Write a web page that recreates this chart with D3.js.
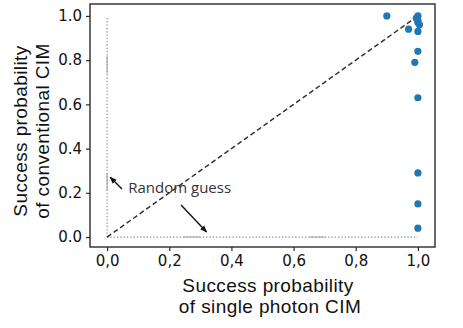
<!DOCTYPE html>
<html><head><meta charset="utf-8">
<script src="https://cdn.jsdelivr.net/npm/d3@7"></script>
<style>
html,body{margin:0;padding:0;background:#fff;}
svg{display:block;}
</style></head>
<body>
<svg id="chart" width="463" height="328"></svg>
<script>
// Data
const singlePhoton = [0.90, 1.00, 0.995, 1.00, 1.00, 1.005, 0.97, 1.00, 1.00, 0.99, 1.00, 1.00, 1.00, 1.00];
const conventional = [1.00, 1.00, 0.99, 0.98, 0.97, 0.96, 0.94, 0.93, 0.84, 0.79, 0.63, 0.29, 0.15, 0.04];
const xTicks = [0, 0.2, 0.4, 0.6, 0.8, 1.0];
const yTicks = [0, 0.2, 0.4, 0.6, 0.8, 1.0];
const xTickLabels = ["0,0", "0,2", "0,4", "0,6", "0,8", "1,0"];
const yTickLabels = ["0.0", "0.2", "0.4", "0.6", "0.8", "1.0"];
const annotationText = "Random guess";

const svg = d3.select("#chart");
const L = 90, R = 435, T = 4, B = 247;
const x = d3.scaleLinear().domain([-0.055, 1.055]).range([L, R]);
const y = d3.scaleLinear().domain([-0.045, 1.054]).range([B, T]);

const defs = svg.append("defs");
defs.append("marker").attr("id", "ah").attr("viewBox", "0 0 10 10")
  .attr("refX", 9).attr("refY", 5).attr("markerWidth", 7).attr("markerHeight", 7)
  .attr("markerUnits", "userSpaceOnUse").attr("orient", "auto")
  .append("path").attr("d", "M0,1 L10,5 L0,9 Z").attr("fill", "#111");

// Random guess dotted lines
svg.append("line").attr("x1", x(0)).attr("x2", x(0)).attr("y1", y(0)).attr("y2", y(1))
  .attr("stroke", "#8a8a8a").attr("stroke-width", 1.2).attr("stroke-dasharray", "1.3,2");
svg.append("line").attr("x1", x(0)).attr("x2", x(1)).attr("y1", y(0)).attr("y2", y(0))
  .attr("stroke", "#8a8a8a").attr("stroke-width", 1.2).attr("stroke-dasharray", "1.3,2");
// faint solid fragments
const fragV = [[0.74, 0.82], [0.21, 0.29]];
fragV.forEach(f => svg.append("line").attr("x1", x(0)).attr("x2", x(0)).attr("y1", y(f[0])).attr("y2", y(f[1]))
  .attr("stroke", "#aaa").attr("stroke-width", 1.2));
const fragH = [[0.245, 0.30], [0.65, 0.70]];
fragH.forEach(f => svg.append("line").attr("x1", x(f[0])).attr("x2", x(f[1])).attr("y1", y(0)).attr("y2", y(0))
  .attr("stroke", "#aaa").attr("stroke-width", 1.2));

// Diagonal
svg.append("line").attr("x1", x(0)).attr("y1", y(0)).attr("x2", x(1)).attr("y2", y(1))
  .attr("stroke", "#333").attr("stroke-width", 1.5).attr("stroke-dasharray", "5,3");

// Points
svg.append("g").selectAll("circle").data(singlePhoton).join("circle")
  .attr("cx", d => x(d)).attr("cy", (d, i) => y(conventional[i]))
  .attr("r", 3.6).attr("fill", "#1f77b4");

// Frame
svg.append("rect").attr("x", L).attr("y", T).attr("width", R - L).attr("height", B - T)
  .attr("fill", "none").attr("stroke", "#2a2a2a").attr("stroke-width", 1.4);

// Axes
const xAxis = svg.append("g").attr("transform", `translate(0,${B})`)
  .call(d3.axisBottom(x).tickValues(xTicks).tickSize(4).tickPadding(4).tickFormat((d, i) => xTickLabels[i]));
const yAxis = svg.append("g").attr("transform", `translate(${L},0)`)
  .call(d3.axisLeft(y).tickValues(yTicks).tickSize(4).tickPadding(4).tickFormat((d, i) => yTickLabels[i]));
[xAxis, yAxis].forEach(a => {
  a.select(".domain").remove();
  a.selectAll(".tick line").attr("stroke", "#2a2a2a").attr("stroke-width", 1.2);
  a.selectAll(".tick text").attr("fill", "#111").attr("font-family", "DejaVu Sans")
    .attr("font-size", 15);
});

// Axis labels
const lblFont = "Liberation Sans";
const xl = svg.append("text").attr("text-anchor", "middle").attr("font-family", lblFont)
  .attr("font-size", 19).attr("letter-spacing", 0.4).attr("fill", "#111");
xl.append("tspan").attr("x", 268).attr("y", 291.5).text("Success probability");
xl.append("tspan").attr("x", 270).attr("y", 313).text("of single photon CIM");

const yl = svg.append("text").attr("text-anchor", "middle").attr("font-family", lblFont)
  .attr("font-size", 19).attr("letter-spacing", 0.4).attr("fill", "#111").attr("transform", "translate(0,131) rotate(-90)");
yl.append("tspan").attr("x", 0).attr("y", 27).text("Success probability");
yl.append("tspan").attr("x", 0).attr("y", 48.5).text("of conventional CIM");

// Annotation
svg.append("text").attr("x", x(0.068)).attr("y", y(0.2)).attr("font-family", "Open Sans")
  .attr("font-size", 15).attr("fill", "#333").text(annotationText);
const arrows = [[[0.048, 0.217], [0.01, 0.27]], [[0.238, 0.145], [0.32, 0.023]]];
arrows.forEach(a => svg.append("line")
  .attr("x1", x(a[0][0])).attr("y1", y(a[0][1])).attr("x2", x(a[1][0])).attr("y2", y(a[1][1]))
  .attr("stroke", "#111").attr("stroke-width", 1.4).attr("marker-end", "url(#ah)"));
</script>
</body></html>
